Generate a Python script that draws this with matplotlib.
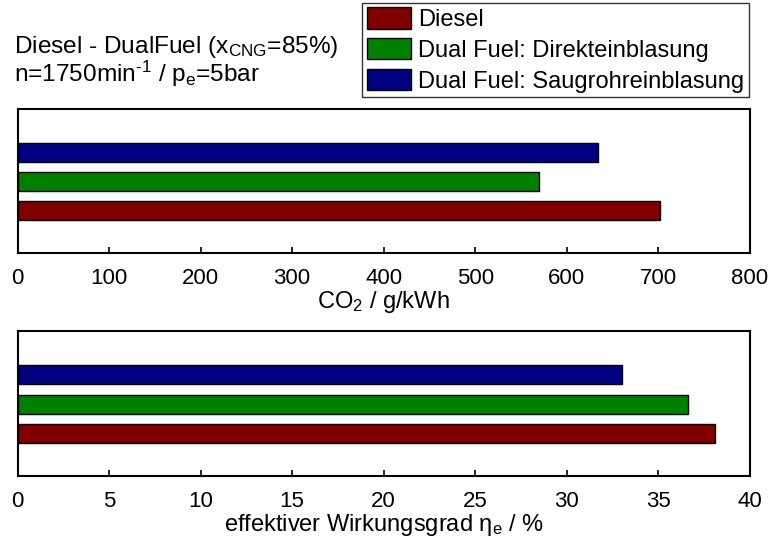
import matplotlib
matplotlib.use("Agg")
import matplotlib.pyplot as plt

plt.rcParams['font.family'] = ['Liberation Sans', 'DejaVu Sans']
plt.rcParams['mathtext.fontset'] = 'custom'
plt.rcParams['mathtext.rm'] = 'Liberation Sans'
plt.rcParams['mathtext.it'] = 'Liberation Sans'
plt.rcParams['font.size'] = 17

# Data
series = ["Diesel", "Dual Fuel: Direkteinblasung", "Dual Fuel: Saugrohreinblasung"]
colors = ["#800000", "#008000", "#000080"]
co2 = [702, 570, 634]            # g/kWh
eta = [38.1, 36.6, 33.0]         # %
positions = [1, 2, 3]

fig = plt.figure(figsize=(7.71, 5.4), dpi=100)
ax1 = fig.add_axes([0.0227, 0.5315, 0.950, 0.2667])
ax2 = fig.add_axes([0.0227, 0.1185, 0.950, 0.2685])

# one horizontal bar panel
def draw(ax, values, xlim, xticks, xlabel):
    bars = []
    for pos, val, col, name in zip(positions, values, colors, series):
        b = ax.barh(pos, val, height=0.65, color=col, edgecolor='black',
                    linewidth=1.0, label=name)
        bars.append(b)
    ax.set_xlim(*xlim)
    ax.set_ylim(-0.46, 4.5)
    ax.set_xticks(xticks)
    ax.set_yticks([])
    ax.tick_params(axis='x', direction='in', length=4, width=1.2, pad=11,
                   labelsize=16)
    for s in ax.spines.values():
        s.set_linewidth(1.5)
    ax.set_xlabel(xlabel, labelpad=0)
    return bars

bars = draw(ax1, co2, (0, 800), range(0, 801, 100), "CO$_\\mathregular{2}$ / g/kWh")
draw(ax2, eta, (0, 40), range(0, 41, 5), "effektiver Wirkungsgrad η$_\\mathregular{e}$ / %")

fig.text(0.018, 0.913, "Diesel - DualFuel (x$_\\mathregular{CNG}$=85%)", ha='left', va='center',
         fontsize=17.6)
fig.text(0.018, 0.863, "n=1750min$^\\mathregular{\\text{-}1}$ / p$_\\mathregular{e}$=5bar", ha='left', va='center',
         fontsize=17.6)

leg = fig.legend(handles=bars, labels=series, loc='upper right',
                 bbox_to_anchor=(0.971, 0.995), frameon=True, fancybox=False,
                 edgecolor='black', handlelength=1.85, handleheight=1.0,
                 handletextpad=0.3, labelspacing=0.3, borderpad=0.2,
                 borderaxespad=0.0)
leg.get_frame().set_linewidth(1.0)

fig.savefig("out.png", dpi=100)
